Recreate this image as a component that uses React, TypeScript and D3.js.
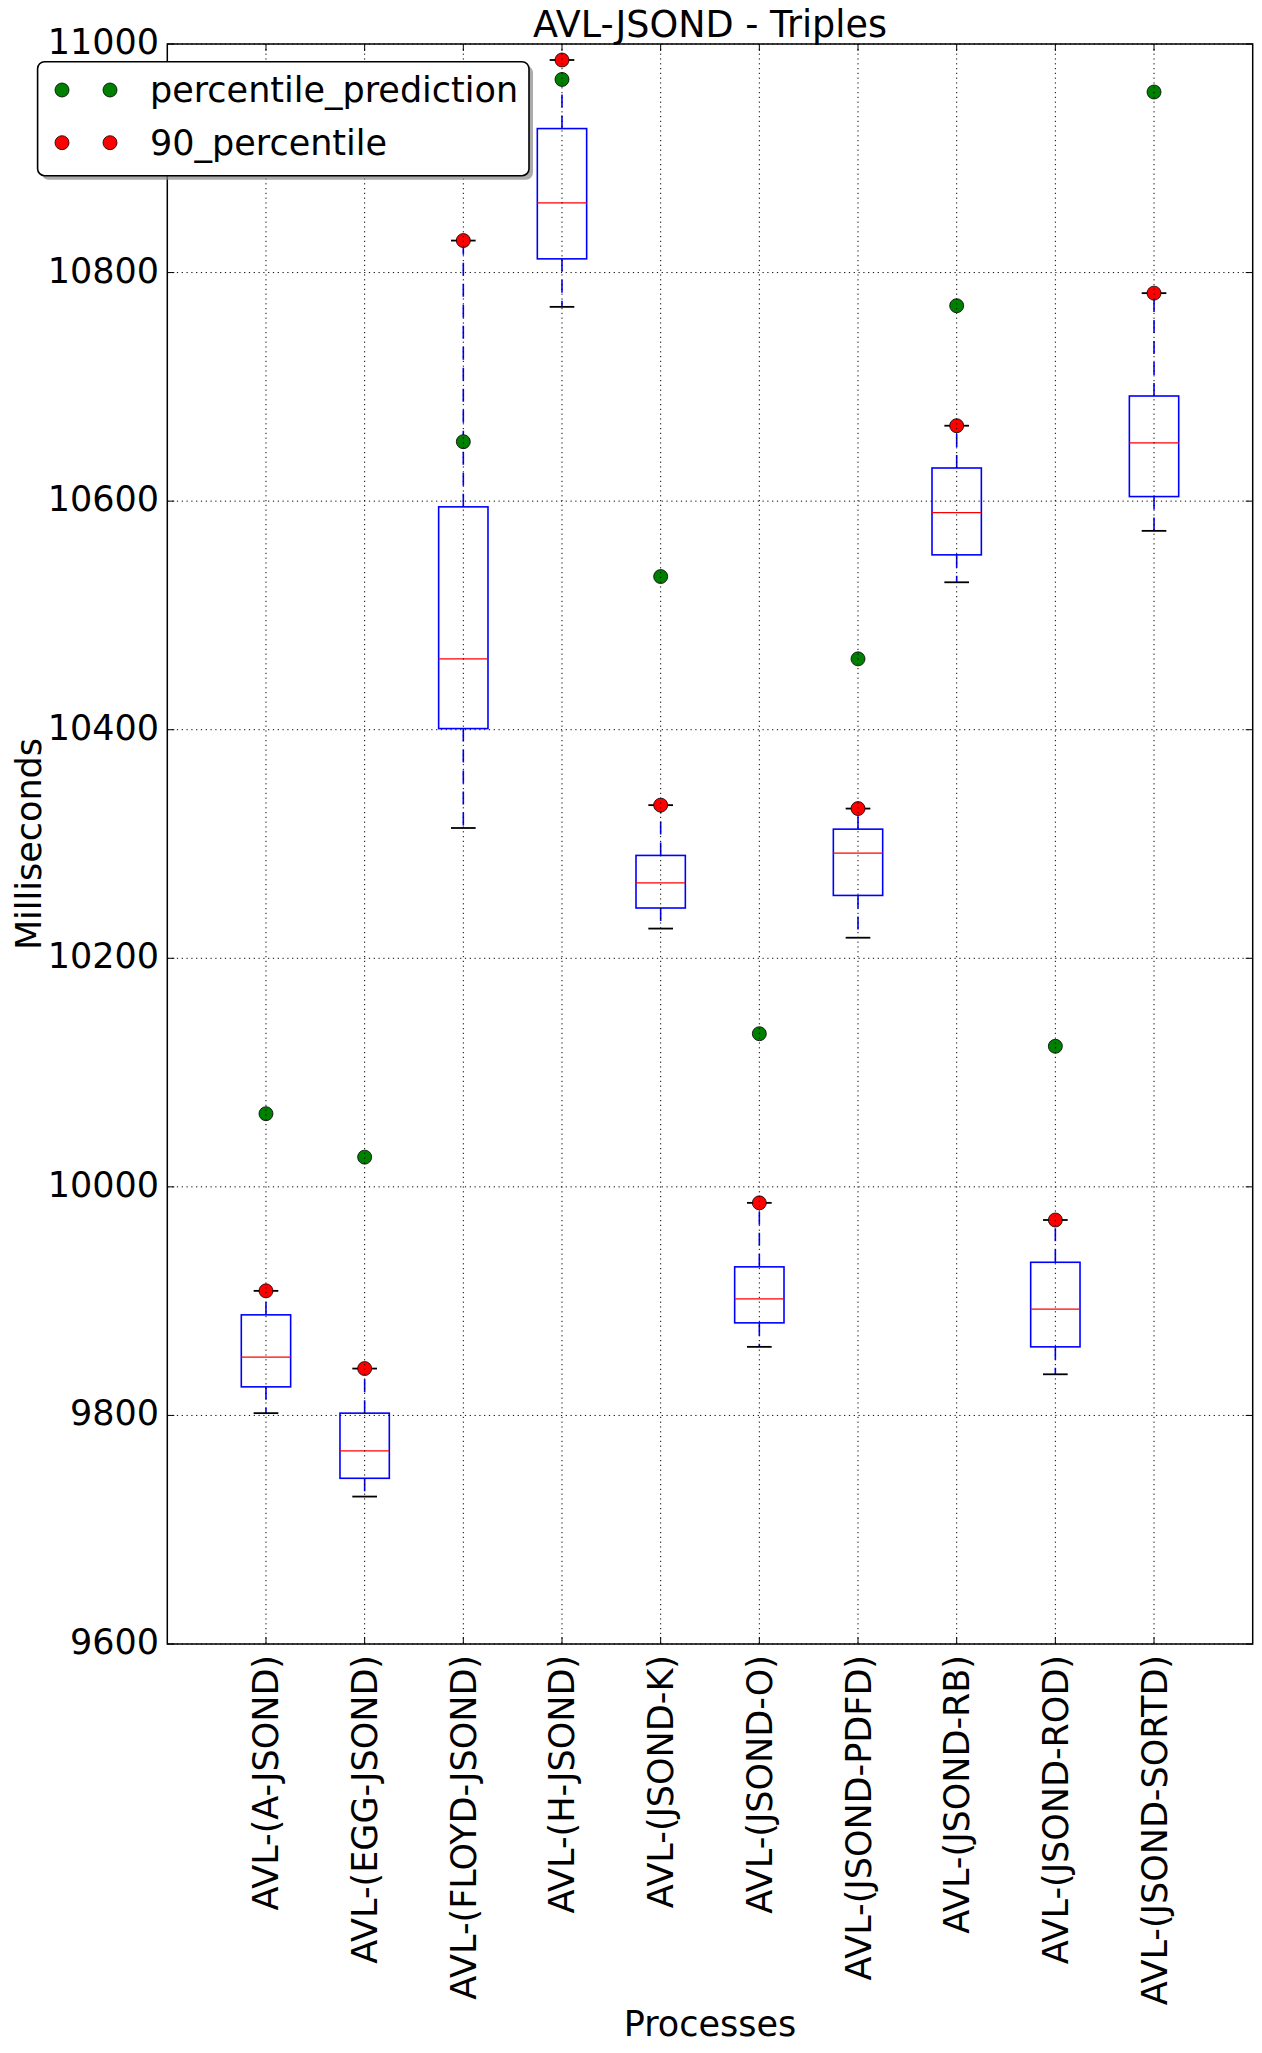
import React from "react";
import * as d3 from "d3";

const categories = [
  "AVL-(A-JSOND)",
  "AVL-(EGG-JSOND)",
  "AVL-(FLOYD-JSOND)",
  "AVL-(H-JSOND)",
  "AVL-(JSOND-K)",
  "AVL-(JSOND-O)",
  "AVL-(JSOND-PDFD)",
  "AVL-(JSOND-RB)",
  "AVL-(JSOND-ROD)",
  "AVL-(JSOND-SORTD)",
];
const whiskerLow = [9802, 9729, 10314, 10770, 10226, 9860, 10218, 10529, 9836, 10574];
const q1 = [9825, 9745, 10401, 10812, 10244, 9881, 10255, 10553, 9860, 10604];
const medians = [9851, 9769, 10462, 10861, 10266, 9902, 10292, 10590, 9893, 10651];
const q3 = [9888, 9802, 10595, 10926, 10290, 9930, 10313, 10629, 9934, 10692];
const percentile90 = [9909, 9841, 10828, 10986, 10334, 9986, 10331, 10666, 9971, 10782];
const percentilePrediction = [10064, 10026, 10652, 10969, 10534, 10134, 10462, 10771, 10123, 10958];
const yTicks = [9600, 9800, 10000, 10200, 10400, 10600, 10800, 11000];

const title = "AVL-JSOND - Triples";
const xLabel = "Processes";
const yLabel = "Milliseconds";
const legendLabels = ["percentile_prediction", "90_percentile"];

const W = 1262;
const H = 2053;
const L = 167.3;
const R = 1252.7;
const T = 44;
const B = 1644;
const FONT = "'DejaVu Sans', sans-serif";
const FS = 35;

export default function App() {
  const x = d3.scaleLinear().domain([0, categories.length + 1]).range([L, R]);
  const y = d3.scaleLinear().domain([9600, 11000]).range([B, T]);
  const boxHalf = (x(0.5) - x(0)) / 2; // box width 0.5
  const capHalf = boxHalf / 2;
  const gridDash = "1.2,3.6";
  const tickLen = 7;

  return (
    <svg
      width={W}
      height={H}
      style={{ position: "absolute", left: 0, top: 0, background: "#fff" }}
      fontFamily={FONT}
    >
      <rect x={0} y={0} width={W} height={H} fill="#fff" />
      {categories.map((c, i) => {
        const cx = x(i + 1);
        return (
          <g key={c}>
            <line x1={cx} x2={cx} y1={y(q3[i])} y2={y(percentile90[i])} stroke="#0000ff" strokeWidth={1.6} strokeDasharray="13,8" />
            <line x1={cx} x2={cx} y1={y(q1[i])} y2={y(whiskerLow[i])} stroke="#0000ff" strokeWidth={1.6} strokeDasharray="13,8" />
            <rect x={cx - boxHalf} y={y(q3[i])} width={boxHalf * 2} height={y(q1[i]) - y(q3[i])} fill="none" stroke="#0000ff" strokeWidth={1.6} />
            <line x1={cx - boxHalf} x2={cx + boxHalf} y1={y(medians[i])} y2={y(medians[i])} stroke="#ff0000" strokeWidth={1.3} />
            <line x1={cx - capHalf} x2={cx + capHalf} y1={y(percentile90[i])} y2={y(percentile90[i])} stroke="#000" strokeWidth={1.8} />
            <line x1={cx - capHalf} x2={cx + capHalf} y1={y(whiskerLow[i])} y2={y(whiskerLow[i])} stroke="#000" strokeWidth={1.8} />
            <circle cx={cx} cy={y(percentilePrediction[i])} r={7} fill="#008000" stroke="#000" strokeWidth={0.8} />
            <circle cx={cx} cy={y(percentile90[i])} r={7} fill="#ff0000" stroke="#000" strokeWidth={0.8} />
          </g>
        );
      })}
      {categories.map((c, i) => (
        <line key={"gx" + i} x1={x(i + 1)} x2={x(i + 1)} y1={T} y2={B} stroke="#000" strokeWidth={1} strokeDasharray={gridDash} />
      ))}
      {yTicks.map((t) => (
        <line key={"gy" + t} x1={L} x2={R} y1={y(t)} y2={y(t)} stroke="#000" strokeWidth={1} strokeDasharray={gridDash} />
      ))}
      {categories.map((c, i) => (
        <g key={"tx" + i}>
          <line x1={x(i + 1)} x2={x(i + 1)} y1={B} y2={B - tickLen} stroke="#000" strokeWidth={1} />
          <line x1={x(i + 1)} x2={x(i + 1)} y1={T} y2={T + tickLen} stroke="#000" strokeWidth={1} />
        </g>
      ))}
      {yTicks.map((t) => (
        <g key={"ty" + t}>
          <line x1={L} x2={L + tickLen} y1={y(t)} y2={y(t)} stroke="#000" strokeWidth={1} />
          <line x1={R} x2={R - tickLen} y1={y(t)} y2={y(t)} stroke="#000" strokeWidth={1} />
        </g>
      ))}
      <rect x={L} y={T} width={R - L} height={B - T} fill="none" stroke="#000" strokeWidth={1.5} />
      {yTicks.map((t) => (
        <text key={"yl" + t} x={159} y={y(t) + 10} textAnchor="end" fontSize={FS} fill="#000">
          {t}
        </text>
      ))}
      {categories.map((c, i) => (
        <text
          key={"xl" + i}
          transform={`translate(${x(i + 1) + 12.5},1655) rotate(-90)`}
          textAnchor="end"
          fontSize={FS}
          fill="#000"
        >
          {c}
        </text>
      ))}
      <text x={(L + R) / 2} y={37} textAnchor="middle" fontSize={36.5} fill="#000">
        {title}
      </text>
      <text x={(L + R) / 2} y={2036} textAnchor="middle" fontSize={FS} fill="#000">
        {xLabel}
      </text>
      <text transform={`translate(41,${(T + B) / 2}) rotate(-90)`} textAnchor="middle" fontSize={FS} fill="#000">
        {yLabel}
      </text>
      <g>
        <rect x={41.6} y={65.7} width={491.4} height={114} rx={7} fill="#888" opacity={0.7} />
        <rect x={37.6} y={61.7} width={491.4} height={114} rx={7} fill="#fff" stroke="#000" strokeWidth={1.6} />
        {legendLabels.map((lab, k) => {
          const ry = k === 0 ? 90 : 142.7;
          const col = k === 0 ? "#008000" : "#ff0000";
          return (
            <g key={lab}>
              <circle cx={62} cy={ry} r={7} fill={col} stroke="#000" strokeWidth={0.8} />
              <circle cx={110} cy={ry} r={7} fill={col} stroke="#000" strokeWidth={0.8} />
              <text x={150} y={ry + 12} fontSize={FS} fill="#000">
                {lab}
              </text>
            </g>
          );
        })}
      </g>
    </svg>
  );
}
